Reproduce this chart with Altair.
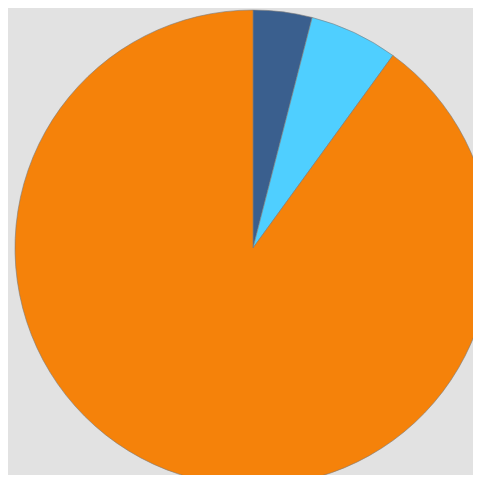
import altair as alt
import pandas as pd

categories = ["A", "B", "C"]
values = [4.0, 6.0, 90.0]
colors = ["#3A5F8E", "#4FCFFF", "#F5820A"]

df = pd.DataFrame({"cat": categories, "value": values, "order": [0, 1, 2]})

chart = alt.Chart(df).mark_arc(
    radius=238, stroke="#7a7a7a", strokeWidth=0.6
).encode(
    theta=alt.Theta("value:Q", stack=True),
    color=alt.Color("cat:N", scale=alt.Scale(domain=categories, range=colors), legend=None),
    order=alt.Order("order:Q"),
    x=alt.value(245),
    y=alt.value(240),
).properties(
    width=465, height=467, background="#e2e2e2",
    autosize=alt.AutoSizeParams(type="none"), padding=0
).configure_view(stroke=None)

chart.save("out.html", embed_options={"renderer": "svg", "actions": False})
